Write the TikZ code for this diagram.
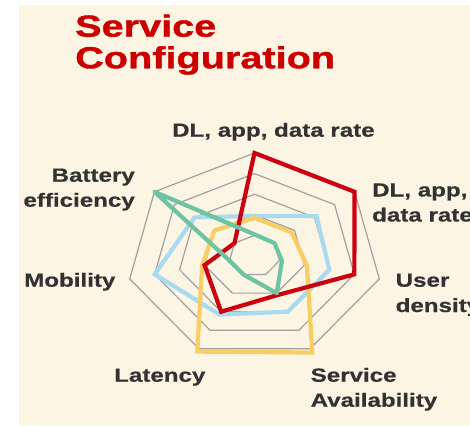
\documentclass[tikz,border=0pt]{standalone}
\usepackage{fontspec}
\newfontfamily\labfont[FakeStretch=1.27,FakeBold=0.6]{Liberation Sans}
\newfontfamily\titfont[FakeStretch=1.3,FakeBold=1.2]{Liberation Sans}
\definecolor{cream}{RGB}{253,245,228}
\definecolor{titred}{RGB}{204,0,0}
\definecolor{labgray}{RGB}{50,50,50}
\definecolor{gridgray}{RGB}{160,160,160}
\definecolor{sred}{RGB}{204,0,17}
\definecolor{sgreen}{RGB}{108,196,160}
\definecolor{sblue}{RGB}{168,218,240}
\definecolor{syellow}{RGB}{248,206,100}
\tikzset{
  gridline/.style={draw=gridgray, line width=1.2pt},
  series/.style={line width=4.2pt, line join=miter},
  lab/.style={inner sep=0pt, anchor=base west, text=labgray, font=\labfont\bfseries\fontsize{19}{23}\selectfont},
  labr/.style={lab, anchor=base east},
  title/.style={inner sep=0pt, anchor=base west, text=titred, font=\titfont\bfseries\fontsize{30.5}{34}\selectfont},
}
\newcommand\mkpoly[2]{%
  \foreach \v [count=\k from 0] in {#2}
    \coordinate (#1\k) at ({254.5+128*\v*cos(90-\k*360/7)},{256-103*\v*sin(90-\k*360/7)});}
\begin{document}
\begin{tikzpicture}[x=1pt,y=-1pt]
\useasboundingbox (0,0) rectangle (470,426);
\fill[cream] (19,5) rectangle (470,425);
% grid heptagons
\foreach \l in {0.2,0.4,0.6,0.8,1}
  \draw[gridline] plot[samples at={0,...,6}] ({254.5+128*\l*cos(90-\x*360/7)},{256-103*\l*sin(90-\x*360/7)}) -- cycle;
% data series
\mkpoly{b}{0.39,0.62,0.6,0.6,0.63,0.8,0.6}
\mkpoly{y}{0.37,0.37,0.42,1.04,1.03,0.42,0.4}
\mkpoly{r}{1,1,0.8,0.42,0.6,0.4,0.2}
\mkpoly{g}{0.21,0.2,0.22,0.4,0.2,0.2,1}
\draw[series, sblue] (b0)--(b1)--(b2)--(b3)--(b4)--(b5)--(b6)--cycle;
\draw[series, syellow] (y0)--(y1)--(y2)--(y3)--(y4)--(y5)--(y6)--cycle;
\draw[series, sred] (r0)--(r1)--(r2)--(r3)--(r4)--(r5)--(r6)--cycle;
\draw[series, sgreen, line join=round] (g0)--(g1)--(g2)--(g3)--(g4)--(g5)--(g6)--cycle;
% title
\node[title] (t1) at (75,36.7) {Service};
\node[title] (t2) at (75,68.3) {Configuration};
% labels
\node[lab] (l0) at (172,136.7) {DL, app, data rate};
\node[lab] (l1a) at (372,196.5) {DL, app,};
\node[lab] (l1b) at (372,221.5) {data rate};
\node[lab] (l2a) at (395.5,286.7) {User};
\node[lab] (l2b) at (395.5,312) {density};
\node[lab] (l3a) at (310.5,381.7) {Service};
\node[lab] (l3b) at (310.5,406.7) {Availability};
\node[lab] (l4) at (114,381.7) {Latency};
\node[lab] (l5) at (24,286.7) {Mobility};
\node[labr] (l6a) at (135,181.7) {Battery};
\node[labr] (l6b) at (135,206.7) {efficiency};
\end{tikzpicture}
\end{document}
